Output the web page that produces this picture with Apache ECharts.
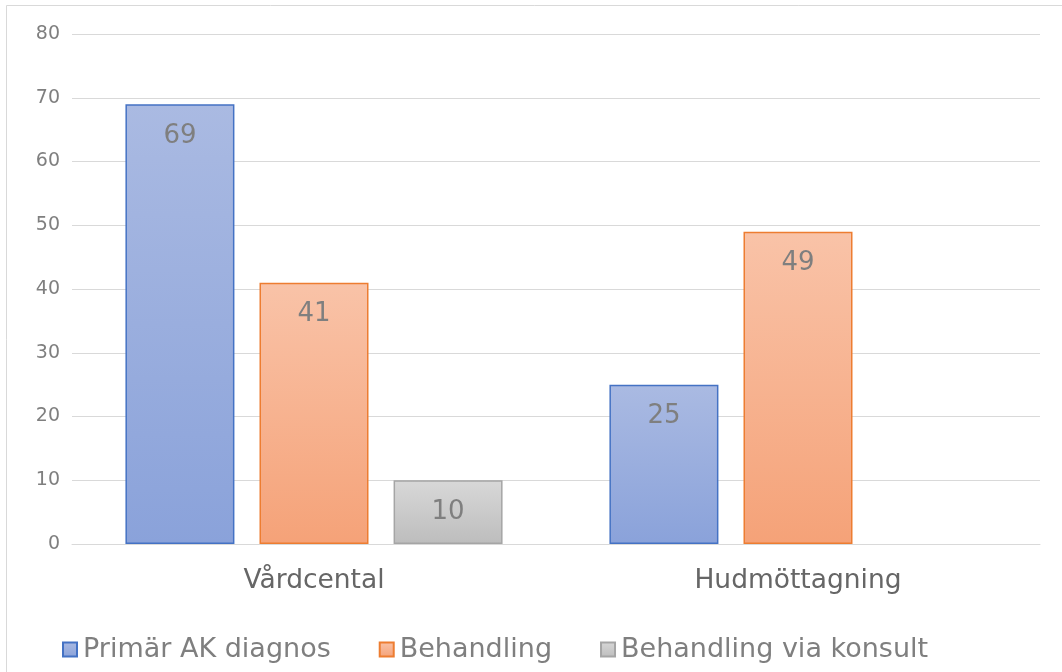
<!DOCTYPE html>
<html>
<head>
<meta charset="utf-8">
<script src="https://cdn.jsdelivr.net/npm/echarts@6/dist/echarts.min.js"></script>
<style>
html,body{margin:0;padding:0;background:#fff;}
#chart{width:1062px;height:672px;}
</style>
</head>
<body>
<div id="chart"></div>
<script>
var categories = ['Vårdcental', 'Hudmöttagning'];
var seriesNames = ['Primär AK diagnos', 'Behandling', 'Behandling via konsult'];
var primarAK = [69, 25];
var behandling = [41, 49];
var viaKonsult = [10, null];
var yTicks = [0, 10, 20, 30, 40, 50, 60, 70, 80];

var FONT = 'DejaVu Sans';
function grad(top, bottom) {
  return new echarts.graphic.LinearGradient(0, 0, 0, 1, [
    {offset: 0, color: top}, {offset: 1, color: bottom}
  ]);
}
var styles = [
  {fill: grad('#aabae2', '#8aa2da'), border: '#4472c4'},
  {fill: grad('#f9c3a8', '#f5a278'), border: '#ed7d31'},
  {fill: grad('#d8d8d8', '#bdbdbd'), border: '#a5a5a5'}
];
var dataSets = [primarAK, behandling, viaKonsult];

var chart = echarts.init(document.getElementById('chart'), null, {renderer: 'canvas'});
chart.setOption({
  animation: false,
  backgroundColor: '#fff',
  textStyle: {fontFamily: FONT},
  graphic: [{
    type: 'rect',
    shape: {x: 6.5, y: 5.5, width: 1070, height: 690},
    style: {fill: 'none', stroke: '#d9d9d9', lineWidth: 1},
    silent: true
  }],
  grid: {left: 72, right: 22, top: 34, bottom: 128, containLabel: false},
  legend: {
    data: seriesNames,
    left: 62,
    top: 636,
    padding: 0,
    itemWidth: 14,
    itemHeight: 14,
    itemGap: 48,
    icon: 'rect',
    textStyle: {fontFamily: FONT, fontSize: 27, color: '#7f7f7f', padding: [0, 0, 0, 1]}
  },
  xAxis: {
    type: 'category',
    data: categories,
    axisLine: {lineStyle: {color: '#d9d9d9', width: 1}},
    axisTick: {show: false},
    axisLabel: {fontFamily: FONT, fontSize: 26.5, color: '#666666', margin: 24}
  },
  yAxis: {
    type: 'value',
    min: yTicks[0],
    max: yTicks[yTicks.length - 1],
    interval: 10,
    axisLine: {show: false},
    axisTick: {show: false},
    splitLine: {lineStyle: {color: '#d9d9d9', width: 1}},
    axisLabel: {fontFamily: FONT, fontSize: 19, color: '#7f7f7f', margin: 12}
  },
  series: seriesNames.map(function (name, i) {
    return {
      name: name,
      type: 'bar',
      data: dataSets[i],
      barWidth: 109,
      barGap: '23%',
      itemStyle: {color: styles[i].fill, borderColor: styles[i].border, borderWidth: 1.5},
      label: {
        show: true,
        position: 'insideTop',
        distance: 19,
        fontFamily: FONT,
        fontSize: 26,
        color: '#7f7f7f'
      }
    };
  })
});
</script>
</body>
</html>
